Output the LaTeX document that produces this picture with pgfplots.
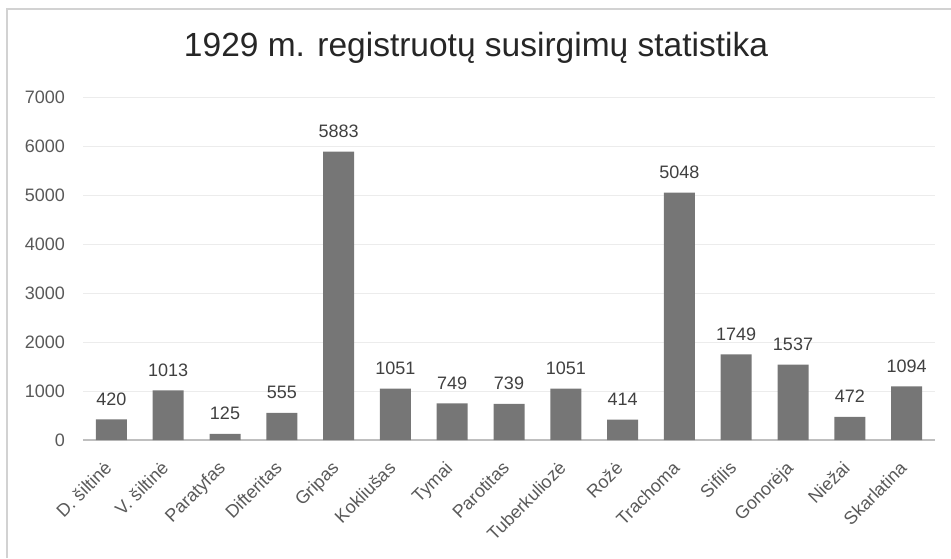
\documentclass[border=0pt]{standalone}
\usepackage{fontspec}
\setmainfont{Liberation Sans}
\newfontfamily\titlefont{Liberation Sans}
\usepackage{pgfplots}
\pgfplotsset{compat=1.18}
\definecolor{barc}{RGB}{118,118,118}
\definecolor{gridc}{RGB}{236,236,236}
\definecolor{axc}{RGB}{191,191,191}
\definecolor{txt}{RGB}{89,89,89}
\definecolor{lbl}{RGB}{64,64,64}
\begin{document}
\begin{tikzpicture}
\path[use as bounding box] (0pt,0pt) rectangle (951pt,558pt);
\draw[gray!35, line width=1.5pt] (7pt,0pt) -- (7pt,549pt) -- (951pt,549pt);
\node[font=\titlefont\fontsize{33.5}{40}\selectfont, text=black!85] at (476pt,510pt) {1929 m. registruotų susirgimų statistika};
\begin{axis}[at={(83pt,118pt)}, anchor=south west, scale only axis,
  width=852pt, height=343pt,
  xmin=-0.5, xmax=14.5, ymin=0, ymax=7000,
  ytick={0,1000,...,7000},
  xtick={0,...,14},
  xticklabels={D. šiltinė, V. šiltinė, Paratyfas, Difteritas, Gripas, Kokliušas, Tymai, Parotitas, Tuberkuliozė, Rožė, Trachoma, Sifilis, Gonorėja, Niežai, Skarlatina},
  axis x line*=bottom, axis y line*=left,
  y axis line style={draw=none},
  x axis line style={draw=axc, line width=1.5pt, -},
  major tick length=0pt,
  tick style={draw=none},
  ymajorgrids, grid style={draw=gridc, line width=1pt},
  /pgf/number format/assume math mode=true,
  /pgf/number format/1000 sep={},
  scaled y ticks=false,
  yticklabel style={font=\fontsize{18}{21}\selectfont, text=txt, anchor=east, inner sep=0pt, xshift=-18pt},
  xticklabel style={font=\fontsize{18}{21}\selectfont, text=txt, xshift=-8pt, yshift=-20pt, rotate=45, anchor=north east, inner sep=0pt},
  ybar, bar width=31pt,
  nodes near coords,
  every node near coord/.append style={font=\fontsize{18}{21}\selectfont, text=lbl, anchor=base, inner sep=0pt, yshift=14pt},
]
\addplot[fill=barc, draw=none] coordinates {
(0,420) (1,1013) (2,125) (3,555) (4,5883) (5,1051) (6,749) (7,739) (8,1051) (9,414) (10,5048) (11,1749) (12,1537) (13,472) (14,1094)};
\end{axis}
\end{tikzpicture}
\end{document}
